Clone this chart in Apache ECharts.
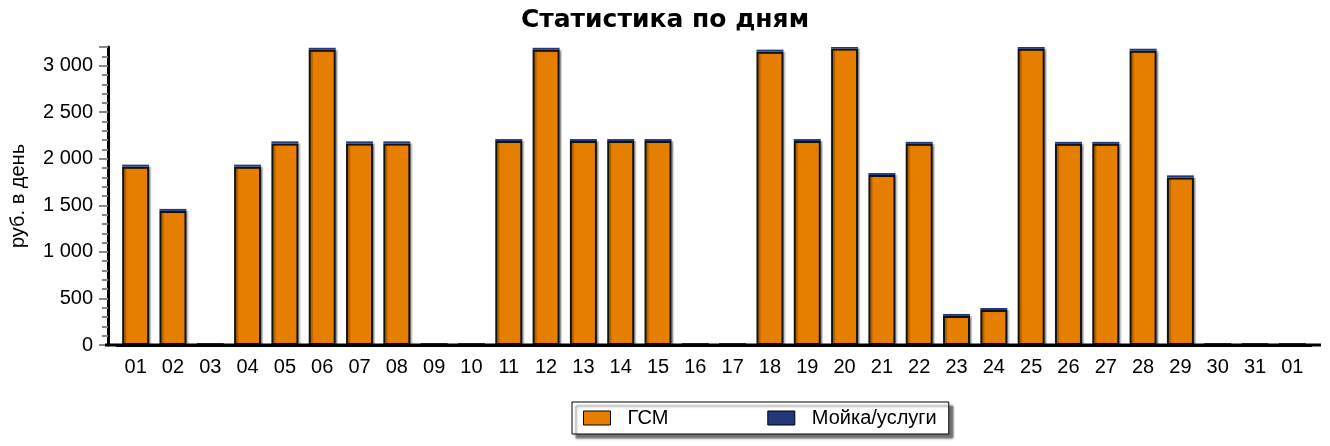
<!DOCTYPE html>
<html>
<head>
<meta charset="utf-8">
<script src="https://cdn.jsdelivr.net/npm/echarts@6/dist/echarts.min.js"></script>
<style>
  html, body { margin: 0; padding: 0; background: #fff; }
  #chart { width: 1330px; height: 446px; }
</style>
</head>
<body>
<div id="chart"></div>
<script>
// дни месяца
const days = ['01', '02', '03', '04', '05', '06', '07', '08', '09', '10', '11', '12', '13', '14', '15', '16',
  '17', '18', '19', '20', '21', '22', '23', '24', '25', '26', '27', '28', '29', '30', '31', '01'];
// ГСМ, руб. в день
const fuel = [1915, 1440, 0, 1915, 2165, 3170, 2165, 2165, 0, 0, 2190, 3170, 2190, 2190, 2190, 0,
  0, 3150, 2190, 3185, 1825, 2160, 312, 376, 3180, 2160, 2160, 3160, 1800, 0, 0, 0];
// Мойка/услуги
const wash = [0, 0, 0, 0, 0, 0, 0, 0, 0, 0, 0, 0, 0, 0, 0, 0,
  0, 0, 0, 0, 0, 0, 0, 0, 0, 0, 0, 0, 0, 0, 0, 0];

const chart = echarts.init(document.getElementById('chart'));

const option = {
  animation: false,
  backgroundColor: '#fff',
  title: {
    text: 'Статистика по дням',
    left: 'center',
    top: 3,
    textStyle: {
      fontFamily: 'DejaVu Sans',
      fontWeight: 900,
      fontSize: 25,
      color: '#000'
    }
  },
  legend: {
    top: 402,
    left: 572,
    itemWidth: 27,
    itemHeight: 14,
    itemGap: 99,
    padding: [6, 12, 6, 11],
    backgroundColor: '#fff',
    borderColor: '#000',
    borderWidth: 1,
    borderRadius: 0,
    shadowColor: 'rgba(0,0,0,0.55)',
    shadowOffsetX: 4,
    shadowOffsetY: 4,
    shadowBlur: 2,
    icon: 'rect',
    textStyle: {
      fontFamily: 'Liberation Sans',
      fontSize: 20,
      color: '#000',
      padding: [0, 0, 0, 12]
    },
    itemStyle: { borderColor: '#000', borderWidth: 1 },
    data: ['ГСМ', 'Мойка/услуги']
  },
  grid: {
    left: 114,
    right: 19,
    top: 47,
    bottom: 101
  },
  xAxis: {
    type: 'category',
    data: days,
    axisLine: { lineStyle: { color: '#000', width: 3 } },
    axisTick: {
      alignWithLabel: true,
      length: 8,
      lineStyle: { color: '#888', width: 2 }
    },
    axisLabel: {
      margin: 12,
      fontFamily: 'Liberation Sans',
      fontSize: 20,
      color: '#000'
    }
  },
  yAxis: {
    type: 'value',
    min: 0,
    max: 3200,
    interval: 500,
    offset: 9,
    name: 'руб. в день',
    nameLocation: 'middle',
    nameGap: 80,
    nameTextStyle: {
      fontFamily: 'Liberation Sans',
      fontSize: 20,
      color: '#000'
    },
    axisLine: { show: true, lineStyle: { color: '#000', width: 3 } },
    axisTick: { show: true, length: 9, lineStyle: { color: '#888', width: 2 } },
    minorTick: { show: true, splitNumber: 5, length: 6, lineStyle: { color: '#888', width: 2 } },
    splitLine: { show: false },
    axisLabel: {
      margin: 15,
      showMaxLabel: false,
      fontFamily: 'Liberation Sans',
      fontSize: 20,
      color: '#000',
      formatter: v => v >= 1000 ? Math.floor(v / 1000) + ' ' + String(v % 1000).padStart(3, '0') : String(v)
    }
  },
  series: [
    {
      name: 'ГСМ',
      type: 'bar',
      stack: 'total',
      data: fuel,
      barWidth: 27,
      itemStyle: {
        color: '#e67e00',
        borderColor: '#111',
        borderWidth: 2,
        shadowColor: 'rgba(0,0,0,0.25)',
        shadowOffsetX: 2,
        shadowBlur: 1
      }
    },
    {
      name: 'Мойка/услуги',
      type: 'bar',
      stack: 'total',
      data: wash,
      barWidth: 27,
      barMinHeight: 2,
      itemStyle: {
        color: '#23387a',
        borderWidth: 0
      }
    }
  ]
};

chart.setOption(option);

// продлеваем ось X до оси Y, как в оригинале
const y0 = chart.convertToPixel({ yAxisIndex: 0 }, 0);
chart.setOption({
  graphic: [{
    type: 'line',
    shape: { x1: 105, y1: y0, x2: 1321, y2: y0 },
    style: { stroke: '#000', lineWidth: 3 },
    z: 5
  }]
});
</script>
</body>
</html>
